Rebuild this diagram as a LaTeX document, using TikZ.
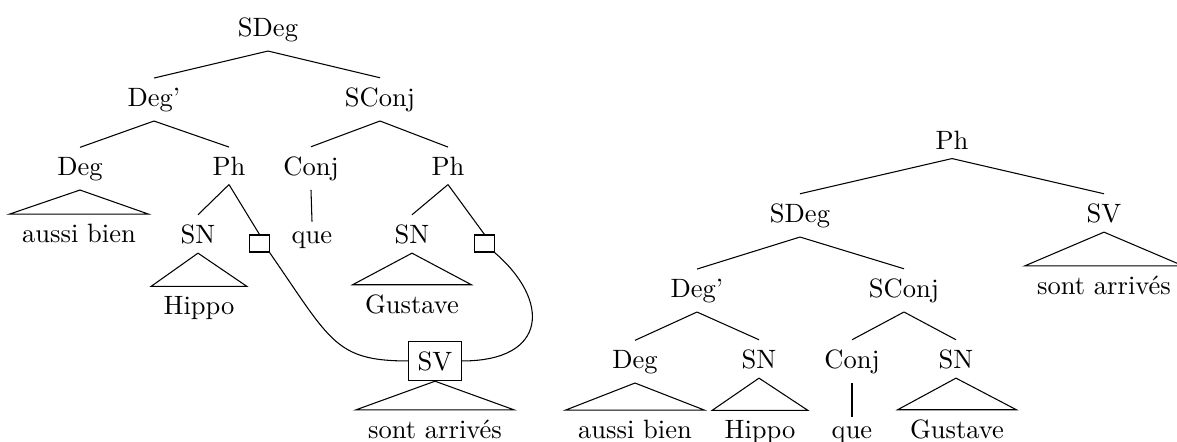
\documentclass[tikz,border=0pt]{standalone}
\begin{document}
\begin{tikzpicture}[x=0.377pt,y=-0.377pt]
    \tikzset{cat/.style={anchor=base,inner sep=3.4pt},
             leaf/.style={anchor=base,inner xsep=4.5pt,inner ysep=3.4pt},
             trace/.style={draw,inner sep=0pt,minimum width=7.2pt,minimum height=6.4pt},
             svbox/.style={draw,anchor=base,inner xsep=3.5pt,inner ysep=3.8pt}}
    \clip (0,0) rectangle (1177,441);
    % left tree
    \node [cat] (sdeg) at (268,36) {SDeg};
    \node [cat] (degp) at (154,106) {Deg'};
    \node [cat] (sconj) at (380,106) {SConj};
    \node [cat] (deg) at (80,175) {Deg};
    \node [cat] (ph) at (229,175) {Ph};
    \node [cat] (conj) at (311,175) {Conj};
    \node [cat] (phb) at (448,175) {Ph};
    \node [leaf] (aussi) at (79,242) {aussi bien};
    \node [cat] (sn) at (198,243) {SN};
    \node [trace] (tra) at (259.5,243.5) {};
    \node [cat] (que) at (312,243) {que};
    \node [cat] (snb) at (412,243) {SN};
    \node [trace] (trb) at (484.5,243.5) {};
    \node [leaf] (hippo) at (199,314) {Hippo};
    \node [leaf] (gust) at (412,313) {Gustave};
    \node [svbox] (sv) at (435,370) {SV};
    \node [leaf] (sont) at (435,438) {sont arriv\'es};
    \draw [black] (sdeg.south) -- (degp.north);
    \draw [black] (sdeg.south) -- (sconj.north);
    \draw [black] (degp.south) -- (deg.north);
    \draw [black] (degp.south) -- (ph.north);
    \draw [black] (sconj.south) -- (conj.north);
    \draw [black] (sconj.south) -- (phb.north);
    \draw [black] (deg.south) -- (aussi.north west) -- (aussi.north east) -- cycle;
    \draw [black] (ph.south) -- (sn.north);
    \draw [black] (ph.south) -- (tra.north);
    \draw [black] (conj.south) -- (que.north);
    \draw [black] (phb.south) -- (snb.north);
    \draw [black] (phb.south) -- (trb.north);
    \draw [black] (sn.south) -- (hippo.north west) -- (hippo.north east) -- cycle;
    \draw [black] (snb.south) -- (gust.north west) -- (gust.north east) -- cycle;
    \draw [black] (sv.south) -- (sont.north west) -- (sont.north east) -- cycle;
    \draw [black] (tra.south east) .. controls +(61,88) and +(-73,0) .. (sv.west);
    \draw [black] (trb.south east) .. controls +(56,48) and +(86,0) .. (sv.east);
    % right tree
    \node [cat] (phr) at (952,149) {Ph};
    \node [cat] (sdegr) at (800,222) {SDeg};
    \node [cat] (svr) at (1104,222) {SV};
    \node [leaf] (sontr) at (1104,294) {sont arriv\'es};
    \node [cat] (degpr) at (697,297) {Deg'};
    \node [cat] (sconjr) at (904,297) {SConj};
    \node [cat] (degr) at (635,368) {Deg};
    \node [cat] (snr) at (759,368) {SN};
    \node [cat] (conjr) at (852,368) {Conj};
    \node [cat] (snrb) at (956,368) {SN};
    \node [leaf] (aussir) at (635,438) {aussi bien};
    \node [leaf] (hippor) at (760,438) {Hippo};
    \node [cat] (quer) at (852,438) {que};
    \node [leaf] (gustr) at (957,438) {Gustave};
    \draw [black] (phr.south) -- (sdegr.north);
    \draw [black] (phr.south) -- (svr.north);
    \draw [black] (svr.south) -- (sontr.north west) -- (sontr.north east) -- cycle;
    \draw [black] (sdegr.south) -- (degpr.north);
    \draw [black] (sdegr.south) -- (sconjr.north);
    \draw [black] (degpr.south) -- (degr.north);
    \draw [black] (degpr.south) -- (snr.north);
    \draw [black] (sconjr.south) -- (conjr.north);
    \draw [black] (sconjr.south) -- (snrb.north);
    \draw [black] (degr.south) -- (aussir.north west) -- (aussir.north east) -- cycle;
    \draw [black] (snr.south) -- (hippor.north west) -- (hippor.north east) -- cycle;
    \draw [black] (conjr.south) -- (quer.north);
    \draw [black] (snrb.south) -- (gustr.north west) -- (gustr.north east) -- cycle;
\end{tikzpicture}
\end{document}
